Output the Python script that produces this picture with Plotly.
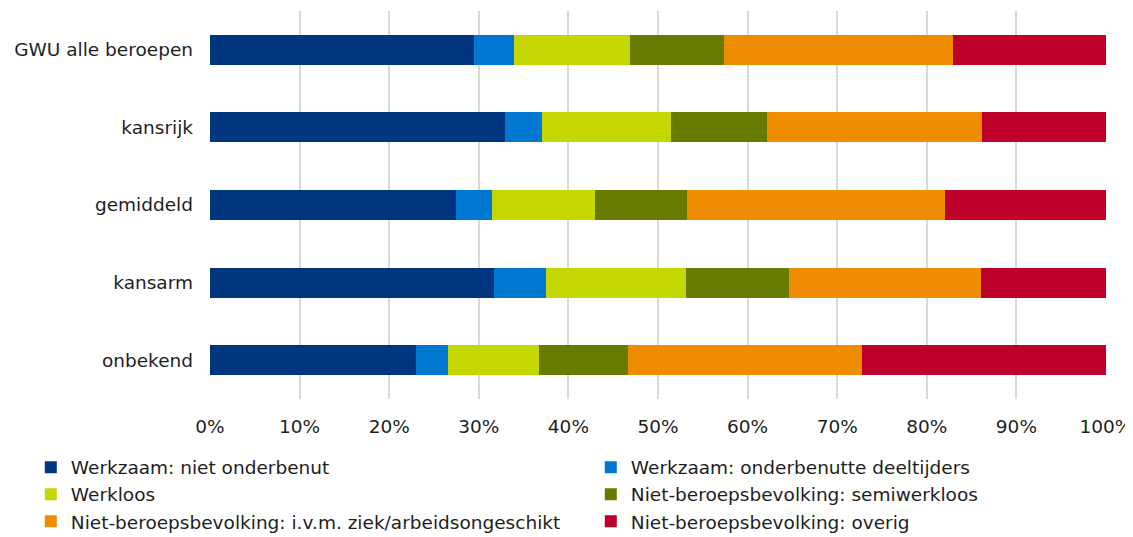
import plotly.graph_objects as go

categories = ["GWU alle beroepen", "kansrijk", "gemiddeld", "kansarm", "onbekend"]

series_names = [
    "Werkzaam: niet onderbenut",
    "Werkzaam: onderbenutte deeltijders",
    "Werkloos",
    "Niet-beroepsbevolking: semiwerkloos",
    "Niet-beroepsbevolking: i.v.m. ziek/arbeidsongeschikt",
    "Niet-beroepsbevolking: overig",
]

# shares per category (fractions)
werkzaam_niet_onderbenut = [0.295, 0.329, 0.274, 0.3175, 0.230]
werkzaam_deeltijders = [0.044, 0.041, 0.041, 0.0575, 0.036]
werkloos = [0.1295, 0.144, 0.115, 0.156, 0.101]
semiwerkloos = [0.1055, 0.108, 0.102, 0.115, 0.100]
ziek_arbeidsongeschikt = [0.255, 0.240, 0.288, 0.214, 0.261]
overig = [0.171, 0.138, 0.180, 0.140, 0.272]

values = [werkzaam_niet_onderbenut, werkzaam_deeltijders, werkloos,
          semiwerkloos, ziek_arbeidsongeschikt, overig]
colors = ["#003580", "#0078D2", "#C4D700", "#697A00", "#EF8C00", "#BE002B"]

fig = go.Figure()
for i, (name, vals, col) in enumerate(zip(series_names, values, colors)):
    fig.add_trace(go.Bar(
        y=categories,
        x=vals,
        name=name,
        orientation="h",
        marker=dict(color=col, line=dict(width=0)),
        # two legend columns: even series left, odd series right
        legend="legend" if i % 2 == 0 else "legend2",
    ))

legend_style = dict(
    orientation="v",
    traceorder="normal",
    xanchor="left",
    y=-0.128,
    yanchor="top",
    font=dict(size=18.5),
    itemclick=False,
    bgcolor="rgba(0,0,0,0)",
)

# the page body adds an 8px margin, so the figure is 8px smaller
fig.update_layout(
    width=1125,
    height=529,
    barmode="stack",
    bargap=0.613,
    plot_bgcolor="white",
    paper_bgcolor="white",
    font=dict(family="DejaVu Sans, Verdana, sans-serif", size=18.5, color="#1e1e1e"),
    margin=dict(l=202, r=27, t=3, b=138, autoexpand=False),
    xaxis=dict(
        range=[0, 1],
        dtick=0.1,
        tickformat=".0%",
        showgrid=True,
        gridcolor="#d9d9d9",
        gridwidth=2,
        zeroline=False,
        showline=False,
        ticks="",
        ticklabelstandoff=14,
    ),
    yaxis=dict(
        autorange="reversed",
        showgrid=False,
        zeroline=False,
        showline=False,
        ticks="",
        ticklabelstandoff=16,
    ),
    legend=dict(x=-0.2, **legend_style),
    legend2=dict(x=0.425, **legend_style),
    showlegend=True,
)

fig.write_html("out.html")
